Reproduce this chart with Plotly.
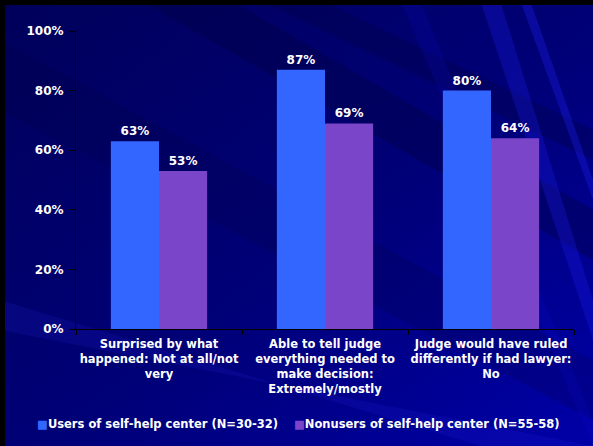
import plotly.graph_objects as go
import urllib.parse

categories = [
    "Surprised by what<br>happened: Not at all/not<br>very",
    "Able to tell judge<br>everything needed to<br>make decision:<br>Extremely/mostly",
    "Judge would have ruled<br>differently if had lawyer:<br>No",
]
users = [63, 87, 80]
nonusers = [53, 69, 64]
series_names = ["Users of self-help center (N=30-32)", "Nonusers of self-help center (N=55-58)"]
series_colors = ["#3366FF", "#7B45C9"]
y_ticks = [0, 20, 40, 60, 80, 100]

W, H = 593, 446
L, R, T, B = 76, 19, 31, 117
PW, PH = W - L - R, H - T - B

FONT = "DejaVu Sans, sans-serif"

svg = f'''<svg xmlns="http://www.w3.org/2000/svg" width="{W}" height="{H}" viewBox="0 0 {W} {H}">
<defs>
<linearGradient id="g" x1="0" y1="0" x2="1" y2="1">
<stop offset="0" stop-color="#00005a"/>
<stop offset="0.55" stop-color="#000078"/>
<stop offset="1" stop-color="#0000a8"/>
</linearGradient>
</defs>
<rect width="{W}" height="{H}" fill="url(#g)"/>
<polygon points="140,0 230,0 593,210 593,260" fill="#000040" opacity="0.35"/>
<polygon points="0,40 0,110 593,420 593,360" fill="#000040" opacity="0.2"/>
<polygon points="260,0 320,0 593,130 593,160" fill="#000040" opacity="0.3"/>
<polygon points="480,0 500,0 593,300 593,340" fill="#2020ff" opacity="0.25"/>
<polygon points="520,0 530,0 593,180 593,200" fill="#2020ff" opacity="0.3"/>
<polygon points="400,0 420,0 593,420 593,446" fill="#1010e0" opacity="0.15"/>
<polygon points="0,300 0,330 593,446 480,446" fill="#3030ff" opacity="0.12"/>
<rect x="0" y="0" width="{W}" height="5" fill="#000000"/>
<rect x="0" y="0" width="5" height="{H}" fill="#000000"/>
</svg>'''
bg_uri = "data:image/svg+xml;charset=utf-8," + urllib.parse.quote(svg)

fig = go.Figure()
for vals, name, col in [(users, series_names[0], series_colors[0]),
                        (nonusers, series_names[1], series_colors[1])]:
    fig.add_trace(go.Bar(
        x=categories, y=vals, name=name,
        marker=dict(color=col, line=dict(width=0)),
        text=[f"{v}%" for v in vals], textposition="outside",
        textfont=dict(color="white", size=12, family=FONT, weight="bold"),
        cliponaxis=False,
    ))

legend_text = "\u00a0\u00a0\u00a0\u00a0".join(
    f'<span style="color:{c}">\u25a0</span>{n}' for n, c in zip(series_names, series_colors)
)

fig.update_layout(
    width=W, height=H,
    margin=dict(l=L, r=R, t=T, b=B, pad=0),
    paper_bgcolor="#000070",
    plot_bgcolor="rgba(0,0,0,0)",
    barmode="group",
    bargap=0.42,
    bargroupgap=0,
    font=dict(family=FONT, color="white", size=12, weight="bold"),
    showlegend=False,
    annotations=[dict(
        text=legend_text, xref="paper", yref="paper",
        x=0.445, y=-0.319, xanchor="center", yanchor="middle", showarrow=False,
        font=dict(size=11.5, color="white", family=FONT, weight="bold"),
    )],
    images=[dict(
        source=bg_uri, xref="paper", yref="paper",
        x=-L / PW, y=1 + T / PH, sizex=W / PW, sizey=H / PH,
        xanchor="left", yanchor="top", sizing="stretch", layer="below",
    )],
)
fig.update_yaxes(
    range=[0, 100], tickvals=y_ticks, ticktext=[f"{v}%" for v in y_ticks],
    showgrid=False, zeroline=False,
    showline=True, linecolor="black", linewidth=1,
    ticks="outside", ticklen=5, tickcolor="black",
    tickfont=dict(size=12, color="white", family=FONT, weight="bold"),
    ticklabelstandoff=4,
)
fig.update_xaxes(
    showgrid=False, showline=True, linecolor="black", linewidth=1,
    ticks="outside", ticklen=5, tickcolor="black", tickson="boundaries",
    tickfont=dict(size=11.5, color="white", family=FONT, weight="bold"),
    tickangle=0, ticklabelstandoff=4,
)

fig.write_html("out.html", config={"displayModeBar": False},
               post_script="document.body.style.margin='0';")
